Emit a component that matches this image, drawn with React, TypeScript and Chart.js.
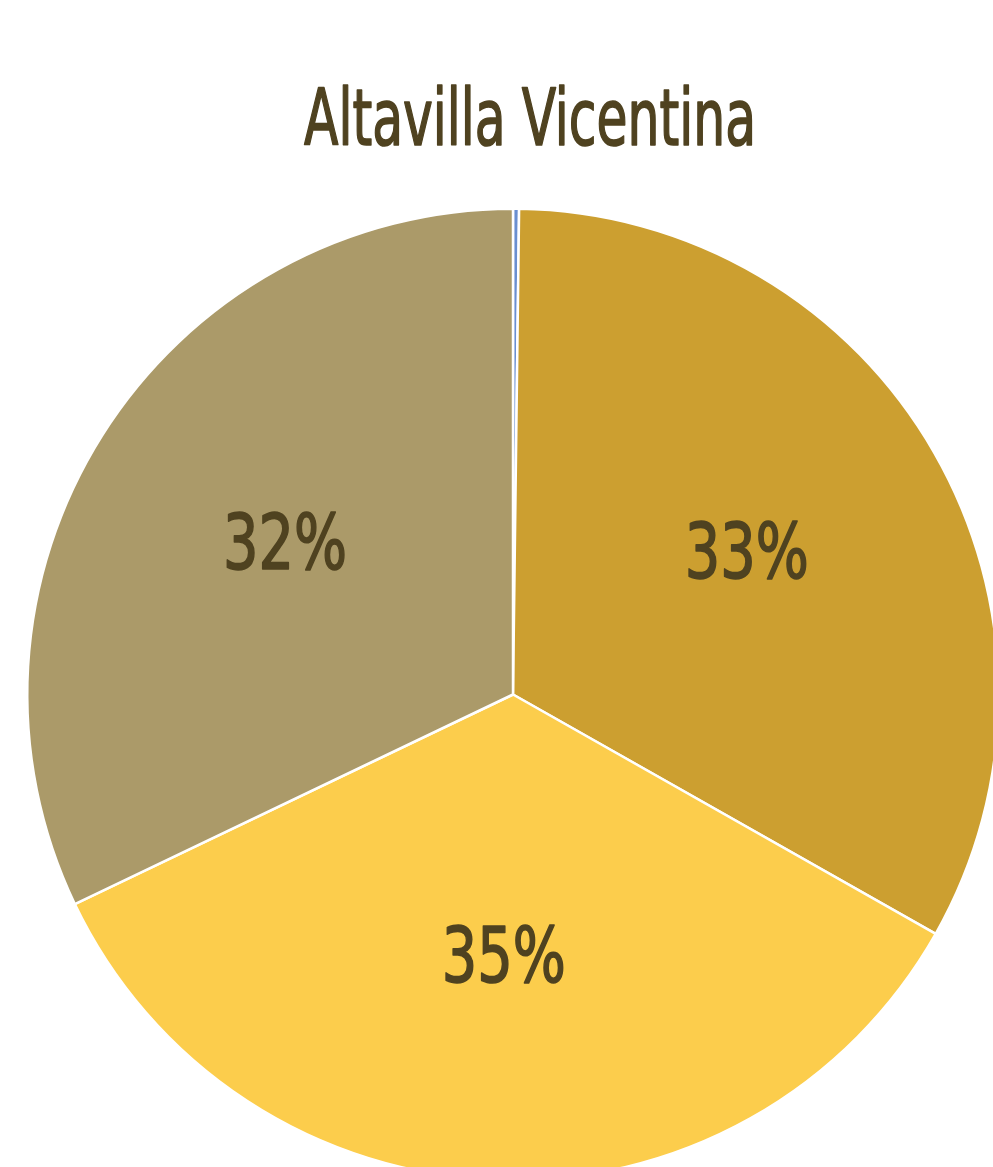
import React, { useEffect, useRef } from "react";
import { Chart, registerables } from "chart.js";

Chart.register(...registerables);

const TITLE = "Altavilla Vicentina";
const categories = ["Altro", "Categoria A", "Categoria B", "Categoria C"];
const values = [0.2, 33.0, 34.7, 32.1];
const colors = ["#6A8FD0", "#CC9F30", "#FCCD4C", "#AB9A69"];
const TEXT_COLOR = "#4F4220";
const FONT = '"DejaVu Sans Condensed", "Liberation Sans Narrow", sans-serif';

function drawText(ctx: any, text: string, x: number, y: number, width: number) {
  const sx = width / ctx.measureText(text).width;
  ctx.save();
  ctx.translate(x, y);
  ctx.scale(sx, 1);
  ctx.fillText(text, 0, 0);
  ctx.lineWidth = 1.6;
  ctx.strokeStyle = TEXT_COLOR;
  ctx.lineJoin = "round";
  ctx.strokeText(text, 0, 0);
  ctx.restore();
}

const titlePlugin = {
  id: "customTitle",
  afterDraw(chart: any) {
    const ctx = chart.ctx;
    ctx.save();
    ctx.font = `78px ${FONT}`;
    ctx.fillStyle = TEXT_COLOR;
    ctx.textAlign = "center";
    ctx.textBaseline = "alphabetic";
    drawText(ctx, TITLE, 530, 145, 452);
    ctx.restore();
  },
};

const labelPlugin = {
  id: "sliceLabels",
  afterDatasetsDraw(chart: any) {
    const ctx = chart.ctx;
    const meta = chart.getDatasetMeta(0);
    const data = chart.data.datasets[0].data as number[];
    const total = data.reduce((a, b) => a + b, 0);
    ctx.save();
    ctx.font = `76px ${FONT}`;
    ctx.fillStyle = TEXT_COLOR;
    ctx.textAlign = "center";
    ctx.textBaseline = "middle";
    meta.data.forEach((arc: any, i: number) => {
      const pct = (data[i] / total) * 100;
      if (pct < 2) return;
      const { startAngle, endAngle, outerRadius, x, y } = arc.getProps(
        ["startAngle", "endAngle", "outerRadius", "x", "y"],
        true
      );
      const mid = (startAngle + endAngle) / 2;
      const d = outerRadius * 0.555;
      const px = x + Math.cos(mid) * d;
      const py = y + Math.sin(mid) * d - 2;
      drawText(ctx, `${Math.round(pct)}%`, px, py, 124);
    });
    ctx.restore();
  },
};

export default function App() {
  const ref = useRef<HTMLCanvasElement | null>(null);
  useEffect(() => {
    if (!ref.current) return;
    const chart = new Chart(ref.current, {
      type: "pie",
      data: {
        labels: categories,
        datasets: [
          {
            data: values,
            backgroundColor: colors,
            borderColor: "#ffffff",
            borderWidth: 2.5,
          },
        ],
      },
      options: {
        responsive: false,
        animation: false,
        layout: { padding: { left: 26, right: 100, top: 207, bottom: 68 } },
        plugins: {
          legend: { display: false },
          tooltip: { enabled: false },
          title: { display: false },
        },
      },
      plugins: [titlePlugin, labelPlugin],
    });
    return () => chart.destroy();
  }, []);
  return (
    <div
      style={{
        position: "fixed",
        left: 0,
        top: 0,
        width: 993,
        height: 1167,
        overflow: "hidden",
        background: "#ffffff",
      }}
    >
      <canvas ref={ref} width={1100} height={1250} style={{ width: 1100, height: 1250 }} />
    </div>
  );
}
